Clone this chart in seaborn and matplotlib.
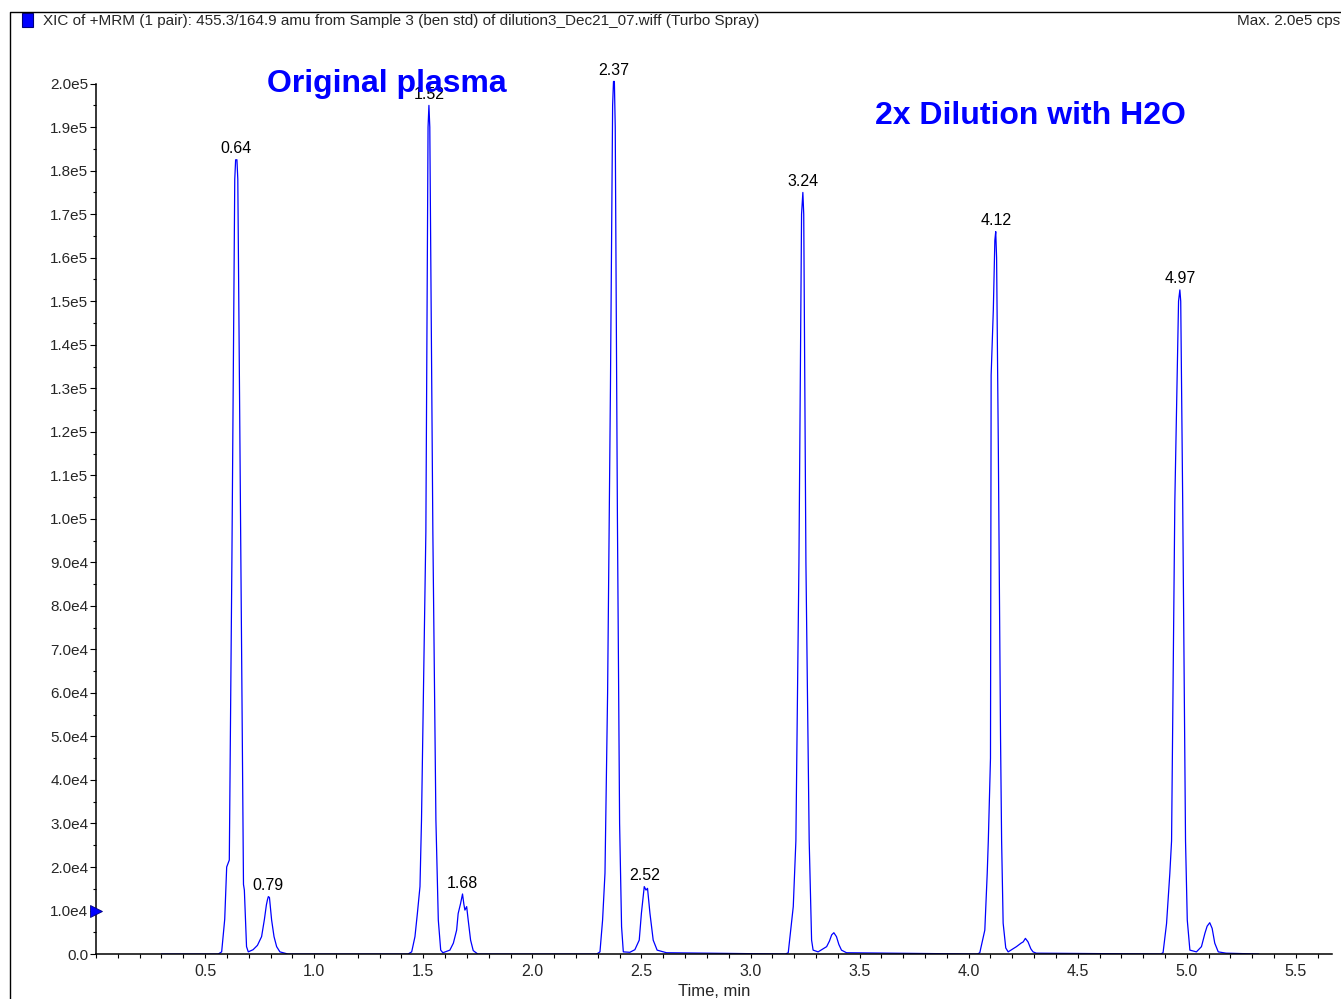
import numpy as np
import pandas as pd
import seaborn as sns
import matplotlib.pyplot as plt
from matplotlib import font_manager, ticker
from matplotlib.lines import Line2D
from matplotlib.patches import Rectangle

# XIC trace (time in min, intensity in k cps)
seg1_t = [0.560, 0.576, 0.590, 0.599, 0.611, 0.623, 0.636, 0.640, 0.646, 0.650, 0.664, 0.676,
          0.680, 0.690, 0.698, 0.720, 0.740, 0.759, 0.772, 0.781, 0.786, 0.790, 0.795, 0.805,
          0.816, 0.828, 0.843, 0.880]
seg1_i = [0, 0.5, 8.0, 20.0, 21.6, 91, 178, 182.5, 182.5, 178, 91, 16,
          14.7, 1.7, 0.5, 1.0, 2.0, 4.0, 8.0, 11.3, 12.5, 13.2, 13.0, 7.8,
          4.0, 1.7, 0.5, 0]
seg2_t = [1.430, 1.447, 1.462, 1.473, 1.485, 1.492, 1.512, 1.522, 1.526, 1.530, 1.544, 1.558,
          1.569, 1.580, 1.590, 1.622, 1.638, 1.653, 1.660, 1.671, 1.680, 1.686, 1.691, 1.699,
          1.706, 1.717, 1.729, 1.750]
seg2_i = [0, 0.5, 4.0, 9.3, 15.5, 30.8, 97, 190, 195, 190, 97, 30.8,
          7.8, 0.9, 0.3, 0.9, 2.5, 5.5, 9.3, 11.6, 13.8, 11.5, 10.1, 10.9,
          7.8, 3.2, 0.8, 0]
seg3_t = [2.295, 2.310, 2.322, 2.333, 2.345, 2.358, 2.368, 2.372, 2.376, 2.380, 2.390, 2.400,
          2.409, 2.417, 2.447, 2.470, 2.490, 2.500, 2.513, 2.521, 2.528, 2.539, 2.554, 2.572,
          2.615]
seg3_i = [0, 0.5, 7.8, 18.6, 60, 130, 195, 200.5, 200.5, 190, 100, 30,
          6.3, 0.5, 0.4, 1.0, 3.2, 9.4, 15.5, 14.7, 15.1, 9.4, 3.2, 0.9,
          0.3]
seg4_t = [3.160, 3.173, 3.196, 3.208, 3.222, 3.234, 3.240, 3.244, 3.254, 3.269, 3.280, 3.287,
          3.310, 3.349, 3.362, 3.372, 3.382, 3.394, 3.405, 3.417, 3.440]
seg4_i = [0, 0.3, 10.9, 26, 90, 170, 175, 170, 90, 26, 3.2, 0.9,
          0.5, 1.7, 3.0, 4.4, 4.9, 4.0, 2.2, 0.9, 0.3]
seg5_t = [4.040, 4.051, 4.074, 4.085, 4.090, 4.100, 4.103, 4.113, 4.120, 4.124, 4.128, 4.136,
          4.146, 4.151, 4.158, 4.170, 4.181, 4.219, 4.240, 4.250, 4.260, 4.272, 4.285, 4.295,
          4.310]
seg5_i = [0, 0.3, 5.5, 18.5, 26, 45, 133, 148, 164, 166, 160, 116,
          50, 26, 7.1, 1.4, 0.5, 1.7, 2.5, 2.8, 3.6, 2.8, 1.2, 0.5,
          0.2]
seg6_t = [4.880, 4.891, 4.907, 4.922, 4.930, 4.945, 4.962, 4.968, 4.972, 4.981, 4.994, 5.002,
          5.014, 5.044, 5.067, 5.083, 5.093, 5.105, 5.116, 5.128, 5.144, 5.180]
seg6_i = [0, 0.3, 7.0, 18.5, 26, 104, 150, 152.6, 150, 104, 26, 7.8,
          0.9, 0.5, 1.7, 4.8, 6.4, 7.2, 5.9, 2.5, 0.5, 0.2]
run_start, run_end = 0.30, 5.33

peak_labels = ["0.64", "0.79", "1.52", "1.68", "2.37", "2.52", "3.24", "4.12", "4.97"]
x_major = [0.5, 1.0, 1.5, 2.0, 2.5, 3.0, 3.5, 4.0, 4.5, 5.0, 5.5]
y_max_tick = 2.0e5
threshold = 1.0e4

title = ("XIC of +MRM (1 pair): 455.3/164.9 amu from Sample 3 (ben std) of "
         "dilution3_Dec21_07.wiff (Turbo Spray)")

times = np.concatenate([[run_start], seg1_t, seg2_t, seg3_t, seg4_t, seg5_t, seg6_t, [run_end]])
inten = np.concatenate([[0], seg1_i, seg2_i, seg3_i, seg4_i, seg5_i, seg6_i, [0]]) * 1000
df = pd.DataFrame({"time": times, "intensity": inten})

sns.set_theme(style="white")
names = {f.name for f in font_manager.fontManager.ttflist}
narrow = "Liberation Sans Narrow" if "Liberation Sans Narrow" in names else "Liberation Sans"
plt.rcParams["font.family"] = [narrow, "DejaVu Sans"]

fig = plt.figure(figsize=(13.41, 9.99), dpi=100)
ax = fig.add_axes([96 / 1341, 0.045, 1235.7 / 1341, 913.5 / 999])

sns.lineplot(data=df, x="time", y="intensity", ax=ax, color="#0000FF", lw=0.9,
             sort=False, estimator=None)

ax.set_xlim(0, 5.664)
ax.set_ylim(0, 2.099e5)

# axes cosmetics
for s in ["top", "right"]:
    ax.spines[s].set_visible(False)
for s in ["left", "bottom"]:
    ax.spines[s].set_color("black")
    ax.spines[s].set_linewidth(1.1)
ax.spines["left"].set_bounds(0, y_max_tick)

ax.xaxis.set_major_locator(ticker.FixedLocator(x_major))
ax.xaxis.set_minor_locator(ticker.MultipleLocator(0.1))
ax.xaxis.set_major_formatter(ticker.FormatStrFormatter("%.1f"))
ax.yaxis.set_major_locator(ticker.MultipleLocator(1e4))
ax.yaxis.set_minor_locator(ticker.FixedLocator(np.arange(5e3, y_max_tick, 1e4)))


def sci(v, pos):
    if abs(v) < 1:
        return "0.0"
    if v < 0:
        return ""
    e = int(np.floor(np.log10(v)))
    return f"{v / 10 ** e:.1f}e{e}"


ax.yaxis.set_major_formatter(ticker.FuncFormatter(sci))
ax.tick_params(axis="x", which="both", direction="out", length=3, width=0.8,
               color="black", labelsize=11.5, pad=4, bottom=True)
ax.tick_params(axis="y", which="major", direction="out", length=4.5, width=0.8,
               color="black", labelsize=11, pad=1, left=True)
ax.tick_params(axis="y", which="minor", direction="out", length=2, width=0.8,
               color="black", left=True)
ax.set_xlabel("Time, min", fontsize=12, labelpad=4)
ax.set_ylabel("")

# peak retention-time labels at each apex
for lab in peak_labels:
    rt = float(lab)
    win = df[(df.time > rt - 0.02) & (df.time < rt + 0.02)]
    top = win.loc[win.intensity.idxmax()]
    ax.annotate(lab, xy=(top.time, top.intensity), xytext=(0, 2.5),
                textcoords="offset points", ha="center", va="bottom",
                fontsize=11.5, color="black")

ax.text(0.784, 1.98e5, "Original plasma", color="#0000FF", fontsize=23,
        fontweight="bold", family="Liberation Sans", va="baseline")
ax.text(3.57, 1.908e5, "2x Dilution with H2O", color="#0000FF", fontsize=23,
        fontweight="bold", family="Liberation Sans", va="baseline")

# threshold marker on the y axis
ax.plot([0], [threshold], marker=">", ms=8, color="#0000FF", mec="#000080",
        mew=0.6, clip_on=False, zorder=5)

# header and frame
fig.add_artist(Line2D([10 / 1341, 10 / 1341, 1], [0, 1 - 12 / 999, 1 - 12 / 999],
                      color="black", lw=1))
fig.add_artist(Rectangle((22 / 1341, 1 - 27 / 999), 11 / 1341, 14 / 999,
                         facecolor="#0000FF", edgecolor="#000080", lw=0.8))
fig.text(43 / 1341, 1 - 21 / 999, title, fontsize=11, va="center", ha="left")
fig.text(1340 / 1341, 1 - 21 / 999, "Max. 2.0e5 cps", fontsize=11, va="center", ha="right")

fig.savefig("out.png", dpi=100, facecolor="white")
